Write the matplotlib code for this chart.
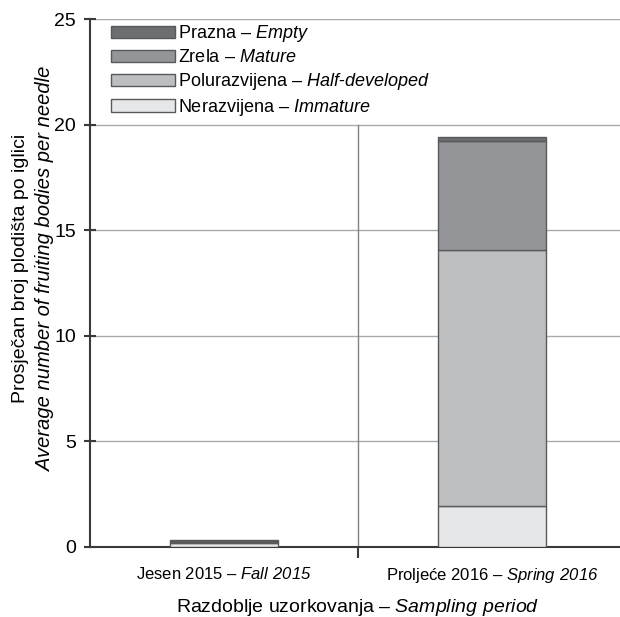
import matplotlib
matplotlib.use('Agg')
import matplotlib.pyplot as plt
import numpy as np

plt.rcParams['font.family'] = ['Liberation Sans', 'DejaVu Sans']
plt.rcParams['mathtext.fontset'] = 'custom'
plt.rcParams['mathtext.rm'] = 'Liberation Sans'
# italic parts go through \mathsf so that digits stay italic too
plt.rcParams['mathtext.sf'] = 'Liberation Sans:italic'

periods = ['Jesen 2015 – $\\mathsf{Fall\\ 2015}$', 'Proljeće 2016 – $\\mathsf{Spring\\ 2016}$']
immature = [0.2, 1.95]
half_dev = [0.05, 12.1]
mature = [0.05, 5.2]
empty = [0.03, 0.15]

layer_labels = ['Nerazvijena – $\\mathsf{Immature}$',
                'Polurazvijena – $\\mathsf{Half}$-$\\mathsf{developed}$',
                'Zrela – $\\mathsf{Mature}$',
                'Prazna – $\\mathsf{Empty}$']
layer_colors = ['#e6e7e8', '#bcbec0', '#939598', '#6d6e71']
layers = [immature, half_dev, mature, empty]

fig = plt.figure(figsize=(6.2, 6.17), dpi=100)
ax = fig.add_axes([0.145, 0.1135, 0.865, 0.8555])

x = np.arange(len(periods))
bottom = np.zeros(len(periods))
handles = []
for vals, col, lab in zip(layers, layer_colors, layer_labels):
    b = ax.bar(x, vals, width=0.4, bottom=bottom, color=col,
               edgecolor='#58595b', linewidth=1, label=lab, zorder=3)
    handles.append(b)
    bottom += np.array(vals)

ax.set_xlim(-0.5, 1.5)
ax.set_ylim(0, 25)
ax.set_yticks([0, 5, 10, 15, 20, 25])
ax.yaxis.grid(True, color='#a7a9ac', linewidth=1, zorder=0)
ax.axvline(0.5, ymax=0.8, color='#808285', linewidth=1, zorder=1)
ax.set_axisbelow(True)

ax.set_xticks(x)
ax.set_xticklabels(periods, fontsize=12)
ax.set_xticks([0.5], minor=True)
ax.tick_params(axis='x', which='major', length=0, pad=14)
ax.tick_params(axis='x', which='minor', length=8, width=1.5, color='#3a3a3a', direction='out')
ax.tick_params(axis='y', labelsize=14, direction='inout', length=8, width=1.5,
               color='#3a3a3a', pad=6)

for s in ['top', 'right']:
    ax.spines[s].set_visible(False)
for s in ['left', 'bottom']:
    ax.spines[s].set_color('#3a3a3a')
    ax.spines[s].set_linewidth(1.5)

ax.set_xlabel('Razdoblje uzorkovanja – $\\mathsf{Sampling\\ period}$', fontsize=14, labelpad=8)
fig.text(0.033, 0.565, 'Prosječan broj plodišta po iglici', rotation=90,
         fontsize=14, ha='center', va='center')
fig.text(0.073, 0.565, 'Average number of fruiting bodies per needle', rotation=90,
         fontsize=14.5, ha='center', va='center', style='italic')

leg = ax.legend(handles[::-1], layer_labels[::-1], loc='upper left',
                bbox_to_anchor=(0.035, 0.997), fontsize=13, frameon=True,
                fancybox=False, edgecolor='none', facecolor='white', framealpha=1,
                handlelength=3.5, handleheight=0.7, labelspacing=0.27,
                handletextpad=0.2, borderpad=0.15, borderaxespad=0.0)
leg.set_zorder(5)

fig.savefig('out.png', dpi=100)
